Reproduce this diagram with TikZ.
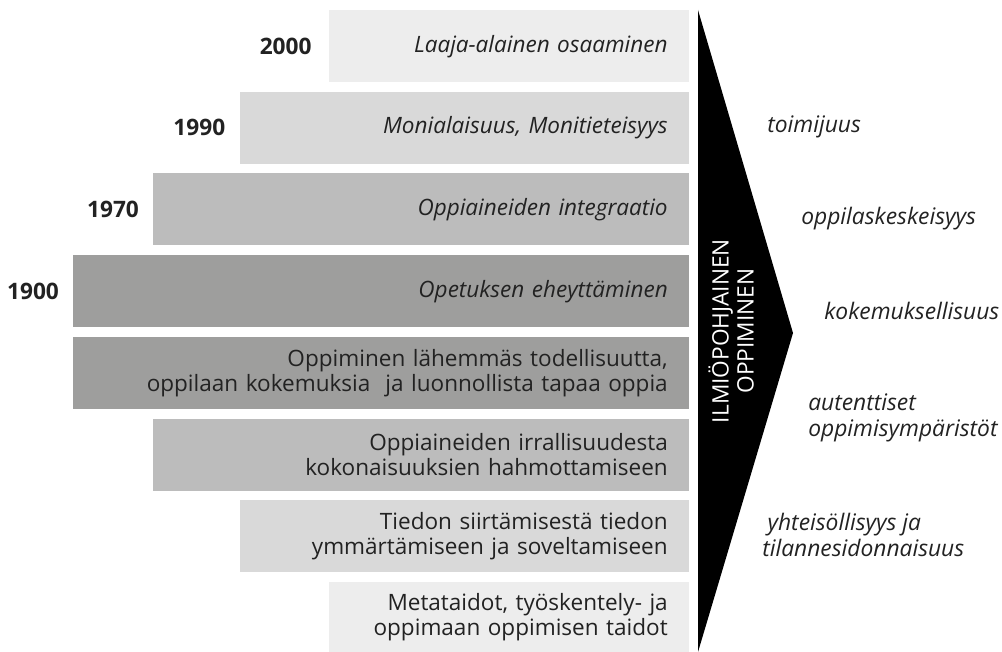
\documentclass[tikz,border=0pt]{standalone}
\usepackage{fontspec}
\setmainfont{Open Sans}
\definecolor{tone1}{HTML}{EDEDED}
\definecolor{tone2}{HTML}{D9D9D9}
\definecolor{tone3}{HTML}{BCBCBC}
\definecolor{tone4}{HTML}{9E9E9D}
\definecolor{ink}{HTML}{222222}
\begin{document}
\begin{tikzpicture}[x=0.75pt,y=-0.75pt,
  bandbox/.style={anchor=north east, inner xsep=15.75pt, inner ysep=0pt,
    minimum height=54pt, align=right, text=ink,
    font=\fontsize{16.9}{18.75}\selectfont},
  narrow/.style={bandbox, minimum width=270pt, text width=238.5pt},
  medium/.style={bandbox, minimum width=336.75pt, text width=305.25pt},
  wide/.style={bandbox, minimum width=402pt, text width=370.5pt},
  widest/.style={bandbox, minimum width=462pt, text width=430.5pt},
  year/.style={anchor=east, inner sep=0pt, text=ink,
    font=\fontsize{17}{18.75}\selectfont\bfseries},
  trait/.style={anchor=west, inner sep=0pt, align=left, text=ink,
    font=\fontsize{17.1}{20}\selectfont\itshape}]
\useasboundingbox (0,0) rectangle (1002,652);

% upper bands: periods of curriculum integration
\node[narrow, fill=tone1] (b1) at (689,10) {\itshape Laaja-alainen osaaminen};
\node[medium, fill=tone2] (b2) at (689,91.5) {\itshape Monialaisuus, Monitieteisyys};
\node[wide, fill=tone3] (b3) at (689,173) {\itshape Oppiaineiden integraatio};
\node[widest, fill=tone4] (b4) at (689,255) {\itshape Opetuksen eheyttäminen};

% lower bands: shifts in learning
\node[widest, fill=tone4] (b5) at (689,337) {Oppiminen lähemmäs todellisuutta,\\oppilaan kokemuksia\ \ ja luonnollista tapaa oppia};
\node[wide, fill=tone3] (b6) at (689,418.5) {Oppiaineiden irrallisuudesta\\kokonaisuuksien hahmottamiseen};
\node[medium, fill=tone2] (b7) at (689,500) {Tiedon siirtämisestä tiedon\\ymmärtämiseen ja soveltamiseen};
\node[narrow, fill=tone1, minimum height=52.5pt] (b8) at (689,581.5) {Metataidot, työskentely- ja\\oppimaan oppimisen taidot};

% years
\node[year] (y1) at ([xshift=-12.5pt]b1.west) {2000};
\node[year] (y2) at ([xshift=-10.5pt]b2.west) {1990};
\node[year] (y3) at ([xshift=-10pt]b3.west) {1970};
\node[year] (y4) at ([xshift=-10pt]b4.west) {1900};

% arrowhead
\fill[black] (698,10) -- (793,333) -- (698,652) -- cycle;
\node[rotate=90, text=white, align=center, inner sep=0pt,
  font=\fontsize{17}{18.75}\selectfont] (arrowlabel) at (731,331)
  {ILMIÖPOHJAINEN\\OPPIMINEN};

% traits of phenomenon-based learning
\node[trait] (t1) at (767,127) {toimijuus};
\node[trait] (t2) at (801,219) {oppilaskeskeisyys};
\node[trait] (t3) at (824,311) {kokemuksellisuus};
\node[trait] (t4) at (808,418) {autenttiset\\oppimisympäristöt};
\node[trait] (t5) at (762,535) {\hspace{4pt}yhteisöllisyys ja\\tilannesidonnaisuus};
\end{tikzpicture}
\end{document}
